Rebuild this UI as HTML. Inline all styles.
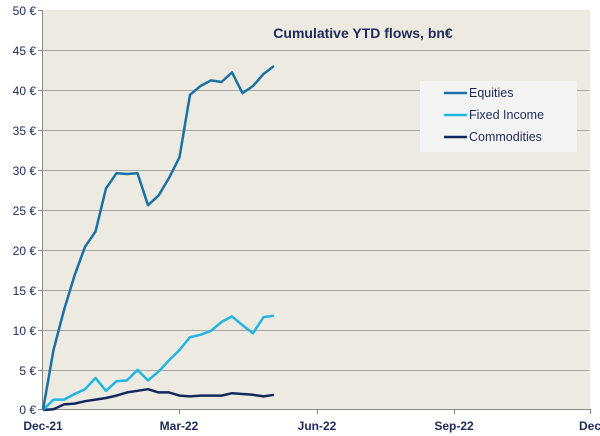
<!DOCTYPE html>
<html><head><meta charset="utf-8"><style>
html,body{margin:0;padding:0;background:#fff;}
svg{display:block;font-family:"Liberation Sans",sans-serif;}
</style></head><body>
<svg width="600" height="436" viewBox="0 0 600 436">
<rect x="0" y="0" width="600" height="436" fill="#fff"/>
<rect x="42" y="10" width="548" height="400" fill="#edeae1"/>
<g stroke="#a8a6a0" stroke-width="1">
<line x1="42" y1="50.5" x2="590" y2="50.5"/>
<line x1="42" y1="90.5" x2="590" y2="90.5"/>
<line x1="42" y1="130.5" x2="590" y2="130.5"/>
<line x1="42" y1="170.5" x2="590" y2="170.5"/>
<line x1="42" y1="210.5" x2="590" y2="210.5"/>
<line x1="42" y1="250.5" x2="590" y2="250.5"/>
<line x1="42" y1="290.5" x2="590" y2="290.5"/>
<line x1="42" y1="330.5" x2="590" y2="330.5"/>
<line x1="42" y1="370.5" x2="590" y2="370.5"/>
</g>
<g stroke="#888" stroke-width="1">
<line x1="42.5" y1="10" x2="42.5" y2="410"/>
<line x1="42" y1="409.5" x2="590" y2="409.5"/>
<line x1="38" y1="10.5" x2="42" y2="10.5"/><line x1="38" y1="50.5" x2="42" y2="50.5"/><line x1="38" y1="90.5" x2="42" y2="90.5"/><line x1="38" y1="130.5" x2="42" y2="130.5"/><line x1="38" y1="170.5" x2="42" y2="170.5"/><line x1="38" y1="210.5" x2="42" y2="210.5"/><line x1="38" y1="250.5" x2="42" y2="250.5"/><line x1="38" y1="290.5" x2="42" y2="290.5"/><line x1="38" y1="330.5" x2="42" y2="330.5"/><line x1="38" y1="370.5" x2="42" y2="370.5"/><line x1="38" y1="409.5" x2="42" y2="409.5"/>
<line x1="179.5" y1="409" x2="179.5" y2="414"/><line x1="317.5" y1="409" x2="317.5" y2="414"/><line x1="454.5" y1="409" x2="454.5" y2="414"/><line x1="590.5" y1="409" x2="590.5" y2="414"/>
</g>
<g font-size="12" fill="#1f2a5a" text-anchor="end">
<text x="36" y="15">50 €</text><text x="36" y="55">45 €</text><text x="36" y="95">40 €</text><text x="36" y="135">35 €</text><text x="36" y="175">30 €</text><text x="36" y="215">25 €</text><text x="36" y="255">20 €</text><text x="36" y="295">15 €</text><text x="36" y="335">10 €</text><text x="36" y="375">5 €</text><text x="36" y="414">0 €</text>
</g>
<g font-size="12" font-weight="bold" fill="#1f2a5a" text-anchor="middle">
<text x="43" y="430">Dec-21</text><text x="179" y="430">Mar-22</text><text x="317" y="430">Jun-22</text><text x="454" y="430">Sep-22</text><text x="590" y="430">Dec</text>
</g>
<text x="363" y="38" font-size="14" font-weight="bold" fill="#1f2a5a" text-anchor="middle">Cumulative YTD flows, bn€</text>
<g fill="none" stroke-width="2.5" stroke-linejoin="round">
<polyline stroke="#13285e" points="43,410 53.5,409.2 64,404.4 74.5,403.6 85,401.2 95.5,399.6 106,398 116.5,395.6 127,392.4 137.5,390.8 148,389.2 158.5,392.4 169,392.4 179.5,395.6 190,396.4 200.5,395.6 211,395.6 221.5,395.6 232,393.2 242.5,394 253,394.8 263.5,396.4 274,394.8"/>
<polyline stroke="#22b5e3" points="43,410 53.5,399.6 64,399.6 74.5,394 85,389.2 95.5,378 106,390.8 116.5,381.2 127,380.4 137.5,370 148,380.4 158.5,371.6 169,360.4 179.5,350 190,337.2 200.5,334.8 211,330.8 221.5,322 232,316.4 242.5,325.2 253,333.2 263.5,317.2 274,315.6"/>
<polyline stroke="#1a72a4" points="43,410 53.5,350 64,310 74.5,275.6 85,246.8 95.5,231.6 106,188.4 116.5,173.2 127,174 137.5,173.2 148,205.2 158.5,195.6 169,178 179.5,157.2 190,94.8 200.5,86 211,80.4 221.5,82 232,72.4 242.5,93.2 253,86 263.5,74 274,66"/>
</g>
<rect x="420" y="81" width="157" height="71" fill="#f4f4f4"/>
<g stroke-width="2.5">
<line x1="444" y1="93" x2="467" y2="93" stroke="#1a72a4"/>
<line x1="444" y1="115" x2="467" y2="115" stroke="#22b5e3"/>
<line x1="444" y1="137" x2="467" y2="137" stroke="#13285e"/>
</g>
<g font-size="12.5" fill="#1f2a5a">
<text x="469" y="97">Equities</text><text x="469" y="119">Fixed Income</text><text x="469" y="141">Commodities</text>
</g>
</svg>
</body></html>
